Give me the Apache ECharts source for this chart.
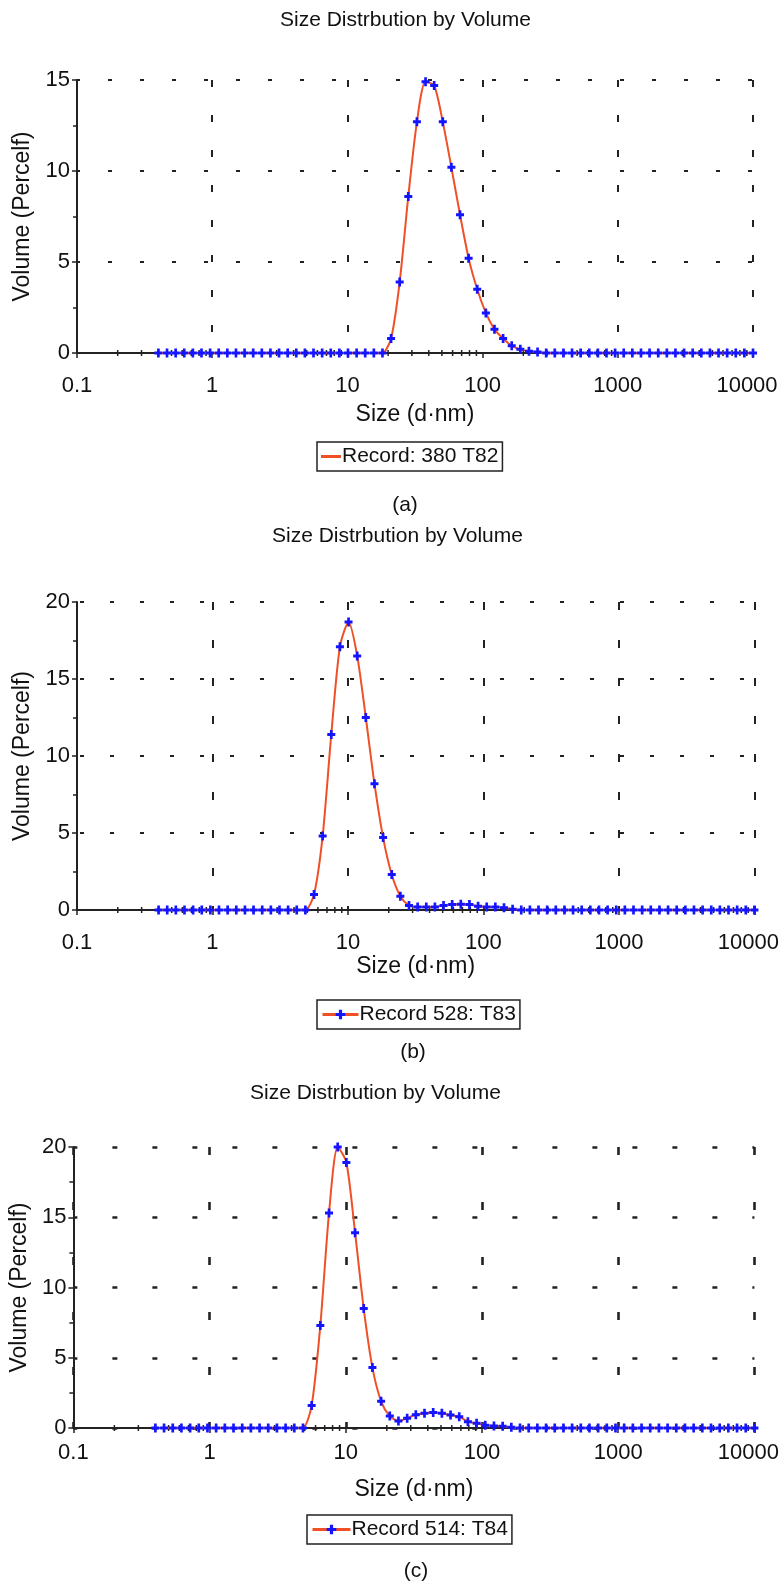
<!DOCTYPE html>
<html>
<head>
<meta charset="utf-8">
<title>Size Distrbution by Volume</title>
<script src="https://cdn.jsdelivr.net/npm/echarts@6/dist/echarts.min.js"></script>
<style>
  html, body { margin: 0; padding: 0; background: #fff; }
  #MyEchartsSize { width: 782px; height: 1586px; }
</style>
</head>
<body>
<div id="MyEchartsSize"></div>
<script>
// size bins (d.nm)
const sizes = [0.4, 0.4632, 0.5365, 0.6213, 0.7195, 0.8332, 0.9649, 1.117, 1.294, 1.499,
  1.736, 2.01, 2.328, 2.696, 3.122, 3.615, 4.187, 4.849, 5.615, 6.503,
  7.531, 8.721, 10.1, 11.7, 13.54, 15.69, 18.17, 21.04, 24.36, 28.21,
  32.67, 37.84, 43.82, 50.75, 58.77, 68.06, 78.82, 91.28, 105.7, 122.4,
  141.8, 164.2, 190.1, 220.2, 255, 295.3, 342, 396.1, 458.7, 531.2,
  615.1, 712.4, 825, 955.4, 1106, 1281, 1484, 1718, 1990, 2305,
  2669, 3091, 3580, 4145, 4801, 5560, 6439, 7456, 8635, 10000]

// volume (%) for each record
const volA = [0, 0, 0, 0, 0, 0, 0, 0, 0, 0,
  0, 0, 0, 0, 0, 0, 0, 0, 0, 0,
  0, 0, 0, 0, 0, 0, 0, 0.8, 3.9, 8.6,
  12.7, 14.9, 14.7, 12.7, 10.2, 7.6, 5.2, 3.5, 2.2, 1.3,
  0.8, 0.4, 0.2, 0.1, 0.05, 0, 0, 0, 0, 0,
  0, 0, 0, 0, 0, 0, 0, 0, 0, 0,
  0, 0, 0, 0, 0, 0, 0, 0, 0, 0]
const volB = [0, 0, 0, 0, 0, 0, 0, 0, 0, 0,
  0, 0, 0, 0, 0, 0, 0, 0, 1.0, 4.8,
  11.4, 17.1, 18.7, 16.5, 12.5, 8.2, 4.7, 2.3, 0.9, 0.3,
  0.2, 0.2, 0.2, 0.3, 0.35, 0.37, 0.35, 0.25, 0.2, 0.2,
  0.15, 0.05, 0, 0, 0, 0, 0, 0, 0, 0,
  0, 0, 0, 0, 0, 0, 0, 0, 0, 0,
  0, 0, 0, 0, 0, 0, 0, 0, 0, 0]
const volC = [0, 0, 0, 0, 0, 0, 0, 0, 0, 0,
  0, 0, 0, 0, 0, 0, 0, 0, 1.6, 7.3,
  15.3, 20.0, 18.9, 13.9, 8.5, 4.3, 1.9, 0.85, 0.5, 0.7,
  0.95, 1.05, 1.1, 1.05, 0.92, 0.8, 0.45, 0.33, 0.2, 0.15,
  0.12, 0.05, 0, 0, 0, 0, 0, 0, 0, 0,
  0, 0, 0, 0, 0, 0, 0, 0, 0, 0,
  0, 0, 0, 0, 0, 0, 0, 0, 0, 0]

const recordNames = ['Record: 380 T82', 'Record 528: T83', 'Record 514: T84']
const captions = ['(a)', '(b)', '(c)']
const yMaxList = [15, 20, 20]
const xMinorTicks = [0.2, 0.3, 0.4, 0.5, 0.6, 0.7, 0.8, 0.9,
  2, 3, 4, 5, 6, 7, 8, 9,
  20, 30, 40, 50, 60, 70, 80, 90,
  200, 300, 400, 500, 600, 700, 800, 900,
  2000, 3000, 4000, 5000, 6000, 7000, 8000, 9000]

const volList = [volA, volB, volC]

// layout for the three panels
const panels = [
  { left: 77, top: 80, width: 676, height: 273, titleLeft: 280, titleTop: 10,
    legendLeft: 317, legendTop: 442, iconW: 20, capX: 405, capY: 505,
    hDash: [4, 28], hOff: 1, vDash: [7, 28], dashW: 2, labelMargin: 22, nameGap: 50, yNameGap: 42 },
  { left: 77, top: 602, width: 682, height: 308, titleLeft: 272, titleTop: 526,
    legendLeft: 317, legendTop: 1000, iconW: 36, capX: 413, capY: 1052,
    hDash: [4, 26], hOff: 27, vDash: [8, 30], dashW: 2, labelMargin: 22, nameGap: 45, yNameGap: 39 },
  { left: 68, top: 1147, width: 690, height: 281, titleLeft: 250, titleTop: 1083,
    legendLeft: 307, legendTop: 1515, iconW: 38, capX: 416, capY: 1571,
    hDash: [5, 35], hOff: 1, vDash: [8, 47], dashW: 2.6, labelMargin: 14, nameGap: 50, yNameGap: 34 }
]

const font = 'Liberation Sans, Arial, sans-serif'
const lineColor = '#ef5026'
const plusSymbol = 'path://M3,0H6V3H9V6H6V9H3V6H0V3H3Z'

var myChart = echarts.init(document.getElementById('MyEchartsSize'))

let option = {
  animation: false,
  backgroundColor: '#fff',
  textStyle: { fontFamily: font },
  title: panels.map((p) => ({
    text: 'Size Distrbution by Volume',
    left: p.titleLeft,
    top: p.titleTop,
    padding: 0,
    textStyle: { fontSize: 21, fontWeight: 'normal', color: '#111', fontFamily: font }
  })),
  legend: panels.map((p, i) => ({
    data: [i === 0 ? { name: recordNames[i], icon: 'rect', itemStyle: { color: lineColor } } : recordNames[i]],
    left: p.legendLeft,
    top: p.legendTop,
    orient: 'horizontal',
    itemWidth: p.iconW,
    itemHeight: i === 0 ? 3 : 12,
    itemGap: 4,
    padding: [4, 4, 4, 4],
    borderColor: '#222',
    borderWidth: 1.5,
    selectedMode: false,
    lineStyle: { width: 3 },
    textStyle: { fontSize: 21, color: '#111', fontFamily: font, padding: [0, 0, 0, -4] }
  })),
  grid: panels.map((p) => ({
    left: p.left, top: p.top, width: p.width, height: p.height
  })),
  xAxis: panels.map((p, i) => ({
    type: 'log',
    logBase: 10,
    gridIndex: i,
    min: 0.1,
    max: 10000,
    name: 'Size (d·nm)',
    nameLocation: 'middle',
    nameGap: p.nameGap,
    nameTextStyle: { fontSize: 23, color: '#111', fontFamily: font },
    axisLine: { lineStyle: { color: '#222', width: 2 } },
    axisTick: { length: 5, lineStyle: { color: '#222', width: 1.5 } },
    axisLabel: {
      fontSize: 22,
      color: '#111',
      margin: p.labelMargin,
      fontFamily: font,
      // plain numbers, the last one pulled a little to the left
      formatter: (v) => (v >= 10000 ? '{r|' + v + '}' : String(v)),
      rich: { r: { fontSize: 22, color: '#111', fontFamily: font, padding: [0, 12, 0, 0] } }
    },
    splitLine: { show: true, lineStyle: { color: '#222', width: p.dashW, type: p.vDash } }
  })),
  yAxis: panels.map((p, i) => ({
    type: 'value',
    gridIndex: i,
    min: 0,
    max: yMaxList[i],
    interval: 5,
    name: 'Volume (Percelf)',
    nameLocation: 'middle',
    nameGap: p.yNameGap,
    nameTextStyle: { fontSize: 23, color: '#111', fontFamily: font },
    axisLine: { show: true, lineStyle: { color: '#222', width: 2 } },
    axisTick: { show: true, length: 5, lineStyle: { color: '#222', width: 1.5 } },
    minorTick: { show: true, splitNumber: 2, length: 4, lineStyle: { color: '#222', width: 1.5 } },
    axisLabel: { fontSize: 22, color: '#111', margin: 7, fontFamily: font },
    splitLine: { show: true, lineStyle: { color: '#222', width: p.dashW, type: p.hDash, dashOffset: p.hOff } }
  })),
  graphic: panels.map((p, i) => ({
    type: 'text',
    x: p.capX,
    y: p.capY,
    style: {
      text: captions[i],
      font: '21px ' + font,
      fill: '#111',
      textAlign: 'center',
      textVerticalAlign: 'middle'
    }
  })),
  series: []
}

panels.forEach((p, i) => {
  // minor ticks of the log axis (2..9 of each decade)
  option.series.push({
    type: 'custom',
    xAxisIndex: i,
    yAxisIndex: i,
    silent: true,
    clip: false,
    z: 1,
    data: xMinorTicks.map((v) => [v, 0]),
    renderItem: (params, api) => {
      const pt = api.coord([api.value(0), 0])
      return {
        type: 'line',
        shape: { x1: pt[0], y1: pt[1] - 3, x2: pt[0], y2: pt[1] + 3 },
        style: { stroke: '#222', lineWidth: 1.5 }
      }
    }
  })
  option.series.push({
    name: recordNames[i],
    type: 'line',
    xAxisIndex: i,
    yAxisIndex: i,
    data: sizes.map((s, k) => [s, volList[i][k]]),
    smooth: 0.25,
    showAllSymbol: true,
    symbol: plusSymbol,
    symbolSize: [8, 9],
    z: 3,
    lineStyle: { color: lineColor, width: 2 },
    itemStyle: { color: '#1414ff' }
  })
})

myChart.setOption(option)
</script>
</body>
</html>
